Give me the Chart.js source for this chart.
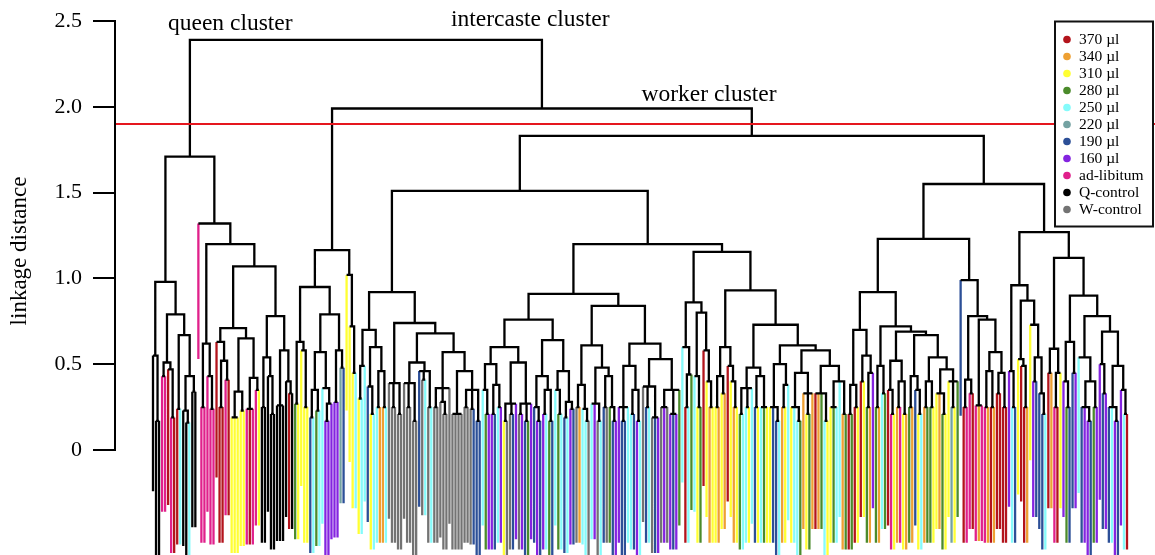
<!DOCTYPE html>
<html><head><meta charset="utf-8">
<script src="https://cdn.jsdelivr.net/npm/chart.js@4"></script>
<style>html,body{margin:0;padding:0;background:#fff}canvas{display:block}</style>
</head><body>
<canvas id="c" width="1155" height="555"></canvas>
<script>
// ---- legend groups ----
const groups = ['370 µl','340 µl','310 µl','280 µl','250 µl','220 µl','190 µl','160 µl','ad-libitum','Q-control','W-control'];
const groupCodes = ['r','o','y','g','c','t','b','p','m','k','w'];
const groupColors = ['#b3141c','#eea033','#ffff33','#4b8b2b','#85fbfb','#74a2a2','#2c4f97','#8424e0','#e0208b','#000000','#737373'];
// ---- axis ----
const yTicks = [0, 0.5, 1.0, 1.5, 2.0, 2.5];
const cutHeight = 1.9;
const leafHang = 0.79;
const clusterLabels = ['queen cluster', 'intercaste cluster', 'worker cluster'];

// ---- subtrees: [mergeHeight, child, child, ...]; a leaf is its group code ----
const queenA = [0.98,
  [0.55,'k',[0.17,'k','k']],
  [0.79,
    [0.51,[0.43,'m','m'],[0.47,'r',[0.19,'m','r']]],
    [0.67,[0.24,'r','c'],[0.43,[0.23,'k',[0.16,'k','c']],[0.34,'k','k']]]]];

const queenB = [1.32,'m',
  [1.20,
    [0.62,[0.25,'m','m'],[0.43,'m',[0.24,'m','m']]],
    [1.07,
      [0.71,
        [0.63,'r',[0.52,[0.25,'r','r'],[0.41,'m','r']]],
        [0.65,[0.34,[0.19,'y','y','y'],[0.23,'y','y']],[0.42,[0.24,'m','r','m'],[0.35,'m','y']]]],
      [0.78,
        [0.54,[0.25,'k','k'],[0.43,'k',[0.21,'k','k']]],
        [0.58,[0.26,'k','k','k'],[0.40,'k',[0.33,'r','k']]]]]]];

const intercaste = [1.165,
  [0.95,
    [0.63,[0.27,'g','y'],[0.58,'y',[0.25,'y','y']]],
    [0.79,
      [0.57,[0.35,[0.19,'b','c'],[0.23,'g','c']],[0.36,'c',[0.27,[0.17,'p','p'],'p']]],
      [0.58,[0.28,'p','p'],[0.48,'t','b']]]],
  [1.02,'y',[0.72,'y',[0.45,'y','c']]]];

const workerA = [0.92,
  [0.70,
    [0.49,[0.30,'y','c'],'c'],
    [0.60,[0.37,'b',[0.21,'y','c']],[0.46,[0.25,'c','o'],[0.25,'o','c']]]],
  [0.74,
    [0.39,'w',[0.25,'w','w'],[0.21,'w','w']],
    [0.68,
      [0.51,[0.39,'w',[0.25,'w','w'],[0.17,'w','w']],[0.46,'b',[0.41,'w','c'],[0.25,'w','c']]],
      [0.57,
        [0.36,[0.25,'w','w'],[0.28,'w',[0.21,'w','w']],'w'],
        [0.46,[0.21,'w','w','w','w'],[0.35,[0.25,'w','w'],[0.24,'w','b'],[0.17,'b','b']]]]]]];

const workerB = [0.91,
  [0.76,
    [0.60,
      [0.50,[0.35,'c',[0.21,'g','p']],[0.38,[0.21,'p','b'],[0.25,'c','p']]],
      [0.51,[0.27,[0.17,'y','w'],[0.21,'w','b'],'p'],[0.27,[0.21,'w','p'],[0.17,'b','g'],'p']]],
    [0.64,
      [0.43,[0.25,'b',[0.17,'p','b']],[0.35,[0.21,'p','c'],[0.17,'g','b']]],
      [0.46,[0.35,'c',[0.21,'g','c']],[0.28,[0.19,'b','c'],[0.24,'p','b']]]]],
  [0.84,
    [0.61,
      [0.38,[0.25,'w','o'],[0.24,'c',[0.17,'c','w']]],
      [0.48,[0.27,'c','p',[0.17,'w','c']],[0.43,[0.25,'b','w'],[0.25,'g',[0.17,'b','p']]]]],
    [0.62,
      [0.49,[0.25,'p',[0.17,'b','b'],'c'],[0.35,[0.21,'c','b'],[0.17,'p','c']]],
      [0.53,[0.37,'w',[0.25,'b','c'],[0.19,'w','b','p']],[0.35,[0.25,'w','p','w'],[0.21,'p','b','p'],'g']]]]];

const workerC = [0.86,
  [0.60,'c',[0.44,[0.25,'r','c'],'g']],
  [0.80,[0.43,'c',[0.25,'y','g']],[0.58,'r',[0.40,'y',[0.25,'o','y']]]]];

const workerD = [0.93,
  [0.60,[0.43,[0.25,'y','o'],[0.33,'y','o']],[0.49,'r',[0.40,'y',[0.25,'o','y']]]],
  [0.73,
    [0.48,[0.36,[0.21,'g','c'],[0.25,'c','y'],'c'],[0.43,[0.25,'b','y'],[0.25,'c','g','y']]],
    [0.61,
      [0.50,[0.25,'y','b',[0.17,'b','c']],[0.38,[0.25,'o','y'],'c']],
      [0.58,
        [0.45,[0.25,'y','c',[0.17,'c','g']],[0.33,'o',[0.21,'y','g'],'o']],
        [0.49,[0.33,'r','o','g',[0.17,'c','y']],[0.40,[0.25,'y','g','c'],'c',[0.21,'o','g']]]]]]];

const workerE = [0.92,
  [0.70,[0.38,[0.21,'r','g'],[0.25,'r','y']],[0.55,[0.40,'r','y'],[0.45,[0.25,'g','o'],'p']]],
  [0.72,
    [0.49,[0.25,'g','o'],[0.33,'c','g']],
    [0.69,
      [0.52,[0.35,'r',[0.21,'m','y']],[0.40,[0.25,'o','m'],[0.21,'y','o']]],
      [0.67,
        [0.43,[0.25,'g','o'],[0.35,'b',[0.21,'y','c']]],
        [0.54,[0.40,[0.25,'o','g'],[0.25,'g','y']],[0.47,[0.33,'y','o',[0.21,'g','y']],[0.40,'y',[0.25,'t','y'],'g']]]]]]];

const workerF = [0.99,'b',
  [0.78,
    [0.41,[0.25,'r','m'],[0.33,'m','r']],
    [0.76,
      [0.26,'m','o','m'],
      [0.57,[0.46,[0.25,'m','o'],[0.25,'r','o']],[0.45,[0.33,'r','r'],[0.25,'r','r']]]]]];

const workerG = [1.27,
  [0.96,
    [0.46,'p',[0.25,'c','b']],
    [0.87,
      [0.53,'y',[0.49,'r',[0.25,'r','o']]],
      [0.73,'y',[0.54,[0.40,'p','b'],[0.33,'b',[0.21,'b','c']]]]]],
  [1.12,
    [0.59,[0.45,'r','o'],[0.45,[0.25,'m','r'],'y']],
    [0.90,
      [0.63,[0.40,'p',[0.25,'g','b']],[0.45,'b','p']],
      [0.78,
        [0.54,'c',[0.40,[0.25,'b','p',[0.17,'p','b']],[0.25,'g','p']]],
        [0.69,[0.50,'p',[0.33,'b','p']],[0.49,[0.25,'b','c',[0.17,'p','b']],[0.35,'p',[0.21,'c','r']]]]]]]];

// upper merges
const tree = [2.39,
  [1.71, queenA, queenB],
  [1.99, intercaste,
    [1.83,
      [1.51, workerA, [1.20, workerB, [1.155, workerC, workerD]]],
      [1.55, [1.23, workerE, workerF], workerG]]]];

// ---- build line data from the tree ----
const linkPts = [];
const leafPts = groupCodes.map(() => []);
let leafCount = 0;
function build(node) {
  if (typeof node === 'string') {
    return { x: leafCount++, leaf: true, g: groupCodes.indexOf(node) };
  }
  const h = node[0];
  const kids = node.slice(1).map(build);
  const first = kids[0], last = kids[kids.length - 1];
  if (!first.leaf) linkPts.push({ x: first.x, y: first.h });
  linkPts.push({ x: first.x, y: h }, { x: last.x, y: h });
  if (!last.leaf) linkPts.push({ x: last.x, y: last.h });
  linkPts.push({ x: last.x, y: null });
  kids.forEach((k, i) => {
    if (k.leaf) {
      leafPts[k.g].push({ x: k.x, y: h }, { x: k.x, y: h - leafHang }, { x: k.x, y: null });
    } else if (i > 0 && i < kids.length - 1) {
      linkPts.push({ x: k.x, y: k.h }, { x: k.x, y: h }, { x: k.x, y: null });
    }
  });
  return { x: (first.x + last.x) / 2, h, leaf: false };
}
build(tree);

const xRange = (leafCount - 1) * 1040 / 974;
const xMin = -38 * xRange / 1040;
const xMax = xMin + xRange;

const datasets = [
  { data: [{ x: xMin, y: cutHeight }, { x: xMax, y: cutHeight }], borderColor: '#e5161e', borderWidth: 2 },
  { data: linkPts, borderColor: '#000', borderWidth: 2.3, clip: false }
];
groupCodes.forEach((c, i) => {
  datasets.push({ data: leafPts[i], borderColor: groupColors[i], borderWidth: 2.3, clip: false });
});
datasets.forEach(d => Object.assign(d, { pointRadius: 0, tension: 0, fill: false, borderJoinStyle: 'miter', borderCapStyle: 'butt', spanGaps: false }));

const SERIF = "'Liberation Serif', 'DejaVu Serif', serif";

const decor = {
  id: 'decor',
  beforeDraw(chart) {
    const c = chart.ctx;
    c.save(); c.fillStyle = '#fff'; c.fillRect(0, 0, chart.width, chart.height); c.restore();
  },
  afterDraw(chart) {
    const c = chart.ctx, y = chart.scales.y;
    c.save();
    c.strokeStyle = '#000'; c.lineWidth = 2;
    c.beginPath();
    c.moveTo(chart.chartArea.left, y.getPixelForValue(yTicks[0]) + 1);
    c.lineTo(chart.chartArea.left, y.getPixelForValue(yTicks[yTicks.length - 1]) - 1);
    c.stroke();
    c.fillStyle = '#000'; c.font = '23.5px ' + SERIF; c.textBaseline = 'alphabetic'; c.textAlign = 'left';
    c.fillText(clusterLabels[0], 168, 29.5);
    c.fillText(clusterLabels[1], 451, 26);
    c.fillText(clusterLabels[2], 641.5, 101);
    c.fillStyle = '#fff'; c.fillRect(1055, 21.5, 98, 205);
    c.strokeStyle = '#111'; c.lineWidth = 2; c.strokeRect(1055, 21.5, 98, 205);
    c.font = '15.5px ' + SERIF; c.textBaseline = 'middle';
    groups.forEach((g, i) => {
      const yy = 39.5 + 17 * i;
      c.fillStyle = groupColors[i];
      c.beginPath(); c.arc(1067, yy, 3.8, 0, Math.PI * 2); c.fill();
      c.fillStyle = '#000';
      c.fillText(g, 1079, yy + 0.5);
    });
    c.restore();
  }
};

new Chart(document.getElementById('c'), {
  type: 'line',
  data: { datasets },
  options: {
    responsive: false, animation: false, devicePixelRatio: 1, events: [],
    layout: { padding: { top: 0, left: 0, right: 0, bottom: 53 } },
    plugins: { legend: { display: false }, tooltip: { enabled: false } },
    scales: {
      x: { type: 'linear', display: false, min: xMin, max: xMax },
      y: {
        type: 'linear', min: -52 / 171.6, max: 450 / 171.6,
        afterBuildTicks: s => { s.ticks = yTicks.map(v => ({ value: v })); },
        afterFit: s => { s.width = 115; s.paddingTop = 0; s.paddingBottom = 0; },
        border: { display: false },
        grid: { drawOnChartArea: false, drawTicks: true, tickLength: 22, color: '#000', lineWidth: 2 },
        ticks: { color: '#000', padding: 11, font: { family: SERIF, size: 22 },
                 callback: v => v === 0 ? '0' : v.toFixed(1) },
        title: { display: true, text: 'linkage distance', color: '#000', font: { family: SERIF, size: 23 }, padding: { top: 6, bottom: 0 } }
      }
    }
  },
  plugins: [decor]
});
</script>
</body></html>
